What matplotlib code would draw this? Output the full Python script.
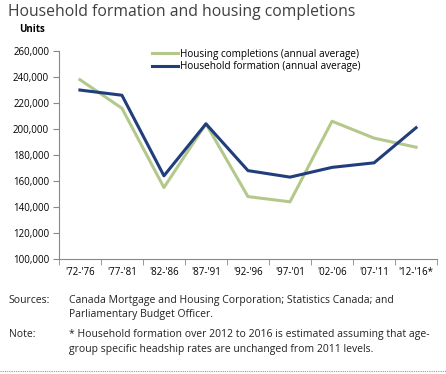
import matplotlib.pyplot as plt
from matplotlib.ticker import FuncFormatter

periodes = ["'72-'76", "'77-'81", "'82-'86", "'87-'91", "'92-'96",
            "'97-'01", "'02-'06", "'07-'11", "'12-'16*"]
achevements = [238000, 216000, 155000, 204000, 148000, 144000, 206000, 193000, 186000]
menages = [230000, 226000, 164000, 204000, 168000, 163000, 170500, 174000, 201000]

VERT = "#b4c88c"
BLEU = "#203d7c"
GRIS = "#404040"

plt.rcParams["font.family"] = ["Open Sans", "DejaVu Sans"]

fig = plt.figure(figsize=(4.46, 3.74), dpi=100)
ax = fig.add_axes([0.132, 0.3075, 0.848, 0.556])

x = list(range(len(periodes)))
ax.plot(x, achevements, color=VERT, lw=2.2, label="Housing completions (annual average)")
ax.plot(x, menages, color=BLEU, lw=2.2, label="Household formation (annual average)")

ax.set_xlim(-0.5, len(periodes) - 0.5)
ax.set_ylim(100000, 260000)
ax.set_yticks(range(100000, 260001, 20000))
ax.yaxis.set_major_formatter(FuncFormatter(lambda v, p: f"{int(v):,}"))
ax.set_xticks(x)
ax.set_xticklabels(periodes)
ax.set_xticks([i - 0.5 for i in range(len(periodes) + 1)], minor=True)
ax.tick_params(axis="x", which="major", length=0, labelsize=7, pad=6, colors="black")
ax.tick_params(axis="x", which="minor", length=4, color="#888888", direction="out")
ax.tick_params(axis="y", length=4, color="#888888", labelsize=7, pad=3)
for c in ["top", "right"]:
    ax.spines[c].set_visible(False)
for c in ["left", "bottom"]:
    ax.spines[c].set_color("#888888")
    ax.spines[c].set_linewidth(0.8)

ax.legend(loc="upper left", bbox_to_anchor=(0.235, 1.03), frameon=False, fontsize=7.2,
          handlelength=2.6, handletextpad=0.2, labelspacing=0.12, borderaxespad=0)

fig.text(0.018, 0.99, "Household formation and housing completions", fontsize=11.3,
         color=GRIS, va="top", ha="left")
fig.text(0.043, 0.935, "Units", fontsize=7, fontweight="bold", va="top", ha="left")

fig.text(0.02, 0.212, "Sources:", fontsize=7.5, va="top", color="#222222")
fig.text(0.155, 0.212, "Canada Mortgage and Housing Corporation; Statistics Canada; and\n"
         "Parliamentary Budget Officer.", fontsize=7.5, va="top", color="#222222", linespacing=1.45)
fig.text(0.02, 0.12, "Note:", fontsize=7.5, va="top", color="#222222")
fig.text(0.155, 0.12, "* Household formation over 2012 to 2016 is estimated assuming that age-\n"
         "group specific headship rates are unchanged from 2011 levels.",
         fontsize=7.5, va="top", color="#222222", linespacing=1.45)
fig.add_artist(plt.Line2D([0.0, 1.0], [0.008, 0.008], transform=fig.transFigure,
                          color="#999999", lw=0.8, ls=(0, (1, 1))))

fig.savefig("out.png", dpi=100)
